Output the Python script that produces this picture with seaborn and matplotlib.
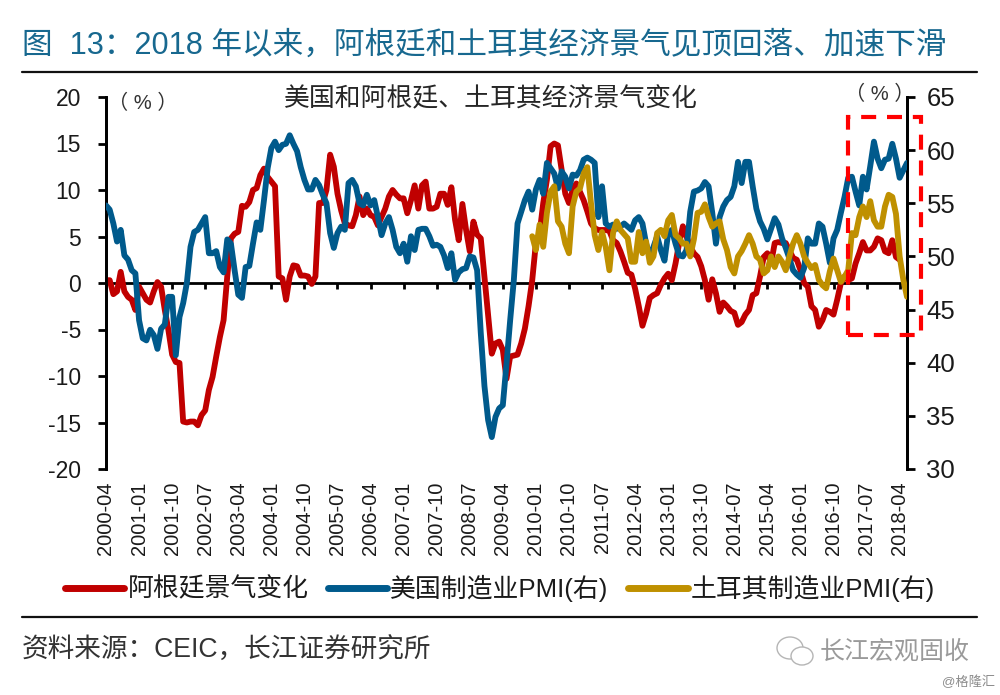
import numpy as np
import pandas as pd
import matplotlib
matplotlib.use("Agg")
import matplotlib.pyplot as plt
from matplotlib.patches import Rectangle, Ellipse
from matplotlib.lines import Line2D
import seaborn as sns

# monthly, starting 2000-04
argentina = [0.3, 0.3, -1.2, -0.9, 1.2, -0.9, -1.5, -1.8, -2.9, -0.4,
             -1.1, -1.8, -2.1, -0.9, 0.1, -0.4, -2.9, -5.1, -7.7, -8.5,
             -8.6, -14.9, -15.0, -14.9, -14.9, -15.3, -14.2, -13.7, -11.5, -10.1,
             -7.9, -5.8, -4.0, 0.7, 4.8, 5.3, 5.5, 8.3, 8.2, 8.7,
             10.0, 10.2, 11.6, 12.3, 11.4, 10.9, 10.4, 0.7, 0.5, -1.8,
             0.7, 1.9, 1.8, 0.8, 0.8, 0.7, -0.1, 0.7, 8.6, 8.6,
             10.0, 13.8, 12.5, 9.6, 7.8, 6.4, 6.2, 6.1, 7.3, 9.3,
             7.3, 8.0, 7.3, 7.1, 6.2, 7.1, 8.0, 9.3, 10.0, 9.5,
             9.1, 9.1, 7.5, 8.9, 10.5, 8.0, 10.5, 10.9, 8.0, 8.0,
             8.2, 9.6, 9.6, 8.4, 10.3, 6.8, 4.6, 8.5, 5.7, 3.4,
             6.6, 5.2, 4.8, 0.7, -3.3, -7.6, -6.5, -6.3, -7.2, -10.3,
             -7.9, -7.8, -7.7, -6.5, -4.9, -2.5, 0.3, 4.3, 5.3, 8.6,
             11.1, 14.7, 15.0, 14.8, 12.2, 9.6, 8.6, 10.0, 10.7, 9.8,
             8.9, 7.7, 6.4, 5.9, 5.7, 5.7, 5.7, 5.6, 4.6, 4.3,
             3.4, 2.3, 1.1, 0.9, -0.6, -2.5, -4.6, -3.3, -1.6, -1.3,
             -1.1, -0.2, 0.5, 1.0, 0.3, 2.1, 4.3, 6.1, 5.0, 3.9,
             3.2, 2.8, 1.8, 0.3, -1.8, 0.4, -1.1, -3.1, -2.1, -2.5,
             -3.0, -3.2, -4.5, -4.2, -3.4, -2.9, -1.3, -1.1, 0.7, 2.8,
             3.2, 2.1, 4.3, 4.4, 4.3, 4.3, 3.5, 2.7, 2.5, 1.4,
             0.0, -0.4, -2.5, -2.9, -4.7, -4.0, -2.9, -3.1, -3.4, -1.8,
             0.0, 0.7, 0.3, 0.5, 2.1, 3.2, 4.4, 3.5, 3.5, 3.9,
             4.8, 4.6, 3.4, 3.2, 4.6, 2.8, 2.5]

us_pmi = [54.8, 54.4, 53.1, 51.4, 52.5, 50.1, 49.7, 48.7, 48.4, 44.0,
          42.3, 42.1, 43.1, 42.6, 41.3, 43.2, 43.6, 46.2, 46.2, 40.7,
          44.3, 45.6, 47.5, 50.9, 52.3, 52.5, 53.1, 53.7, 50.3, 50.3,
          50.5, 49.0, 48.5, 51.6, 51.2, 48.7, 46.4, 46.1, 49.0, 49.1,
          51.2, 53.2, 52.5, 55.3, 58.3, 60.2, 60.8, 60.0, 60.5, 60.6,
          61.4, 60.6, 59.9, 58.4, 57.2, 56.3, 56.3, 57.2, 56.7, 55.8,
          55.0, 52.2, 50.8, 52.2, 52.8, 52.5, 56.9, 57.2, 56.6, 55.0,
          54.8, 55.8, 54.8, 55.3, 53.7, 52.0, 53.1, 53.7, 52.5, 50.9,
          50.3, 51.2, 49.5, 51.9, 50.6, 52.5, 52.6, 52.6, 51.9, 51.0,
          51.1, 50.9, 50.1, 48.9, 50.3, 47.8, 48.5, 48.8, 48.9, 50.0,
          49.9, 48.7, 42.8, 37.8, 34.6, 33.0, 34.9, 35.7, 36.0, 39.9,
          44.0, 47.8, 53.1, 54.2, 55.3, 56.1, 54.4, 56.3, 57.2, 55.9,
          58.8, 58.3, 57.8, 56.4, 58.0, 57.5, 56.4, 57.7, 57.6, 58.1,
          59.1, 59.3, 59.1, 58.8, 53.7, 56.6, 53.1, 52.8, 53.0, 52.6,
          52.8, 53.1, 52.8, 52.5, 53.4, 53.7, 53.1, 51.2, 50.0, 50.9,
          51.9, 50.6, 49.6, 52.2, 52.5, 51.2, 50.1, 50.0, 50.6, 54.2,
          56.1, 56.2, 56.4, 57.0, 56.6, 54.1, 51.2, 53.7, 54.7, 55.3,
          55.6, 56.6, 58.9, 56.9, 58.9, 58.9, 56.6, 54.5, 53.3, 52.6,
          51.6, 52.6, 53.6, 53.0, 51.7, 50.8, 49.8, 48.7, 48.3, 48.0,
          48.9, 51.7, 51.2, 51.2, 53.1, 52.8, 51.2, 49.4, 51.7, 52.5,
          54.1, 55.6, 57.4, 57.5, 56.1, 54.8, 57.5, 56.3, 58.5, 60.8,
          59.2, 58.3, 59.1, 59.2, 60.6, 59.2, 57.4, 58.1, 58.8]

# Turkey only starts 116 months later (2009-12)
turkey_start = 116
turkey_pmi = [51.9, 50.6, 53.0, 50.9, 54.1, 56.1, 56.6, 53.3, 52.8, 51.2,
              50.3, 54.7, 56.1, 56.4, 57.8, 58.4, 55.0, 52.0, 50.6, 52.3,
              50.9, 48.7, 52.2, 53.3, 52.5, 52.1, 51.7, 49.5, 49.5, 52.3,
              50.3, 51.4, 49.4, 50.0, 52.2, 52.5, 51.9, 53.4, 53.9, 52.0,
              51.7, 51.2, 51.2, 50.0, 51.6, 54.1, 54.2, 54.9, 53.7, 52.8,
              53.1, 53.3, 51.6, 50.6, 49.0, 48.4, 50.0, 50.5, 51.2, 52.0,
              51.2, 50.0, 49.7, 48.4, 48.7, 50.0, 49.0, 50.0, 49.5, 48.7,
              50.0, 51.2, 52.0, 51.2, 50.0, 49.4, 48.9, 49.2, 47.8, 47.3,
              47.0, 48.6, 49.8, 48.7, 47.6, 48.1, 48.7, 52.2, 52.0, 53.7,
              54.7, 53.7, 55.2, 53.4, 52.8, 52.8, 54.7, 55.8, 55.6, 54.0,
              50.0, 47.8, 46.2]

tick_labels = ["2000-04", "2001-01", "2001-10", "2002-07", "2003-04", "2004-01", "2004-10",
               "2005-07", "2006-04", "2007-01", "2007-10", "2008-07", "2009-04", "2010-01",
               "2010-10", "2011-07", "2012-04", "2013-01", "2013-10", "2014-07", "2015-04",
               "2016-01", "2016-10", "2017-07", "2018-04"]
left_ticks = [20, 15, 10, 5, 0, -5, -10, -15, -20]
right_ticks = [65, 60, 55, 50, 45, 40, 35, 30]

RED = "#C00000"
BLUE = "#005A8C"
GOLD = "#BF9000"
TEAL = "#17688F"
W, H = 1000, 695


def fx(px):
    return px / W


def fy(py):
    return 1 - py / H


sns.set_theme(style="white")
plt.rcParams["font.family"] = ["Liberation Sans", "Noto Sans CJK SC", "DejaVu Sans"]
plt.rcParams["axes.unicode_minus"] = False

fig = plt.figure(figsize=(10, 6.95), dpi=100)
ax = fig.add_axes([fx(106), fy(469), fx(907 - 106), fy(97) - fy(469)])
ax2 = ax.twinx()

# has to happen before the tick setup, moving a spine resets the ticks
ax.spines["bottom"].set_position(("data", 0))

df_arg = pd.DataFrame({"m": np.arange(len(argentina)), "v": argentina})
df_us = pd.DataFrame({"m": np.arange(len(us_pmi)), "v": us_pmi})
df_tr = pd.DataFrame({"m": np.arange(len(turkey_pmi)) + turkey_start, "v": turkey_pmi})

sns.lineplot(data=df_arg, x="m", y="v", ax=ax, color=RED, lw=4.2, zorder=3)
sns.lineplot(data=df_us, x="m", y="v", ax=ax2, color=BLUE, lw=4.2, zorder=3)
sns.lineplot(data=df_tr, x="m", y="v", ax=ax2, color=GOLD, lw=4.2, zorder=4)

ax.set_xlim(0, len(us_pmi) - 1)
ax.set_ylim(-20, 20)
ax2.set_ylim(30, 65)
ax.set_xlabel("")
ax.set_ylabel("")
ax2.set_ylabel("")

ax.set_xticks(np.arange(len(tick_labels)) * 9)
ax.set_xticklabels(tick_labels, rotation=90, fontsize=14.5, color="#1a1a1a")
ax.set_yticks(left_ticks)
ax2.set_yticks(right_ticks)
ax.tick_params(axis="y", length=6, width=2, color="black", labelsize=16.5, labelcolor="#1a1a1a", pad=12, left=True)
ax2.tick_params(axis="y", length=6, width=2, color="black", labelsize=18.5, labelcolor="#1a1a1a", pad=8, right=True)
# x axis sits on zero but labels stay under the plot
ax.tick_params(axis="x", length=4, width=2, color="black", pad=139, bottom=True)

for a in (ax, ax2):
    a.spines["top"].set_visible(False)
    a.spines["left"].set_linewidth(2)
    a.spines["right"].set_linewidth(2)
    a.spines["left"].set_color("black")
    a.spines["right"].set_color("black")
ax.spines["bottom"].set_linewidth(2)
ax.spines["bottom"].set_color("black")
ax2.spines["bottom"].set_visible(False)

# title + rules
fig.text(fx(22), fy(46), "图  13：2018 年以来，阿根廷和土耳其经济景气见顶回落、加速下滑",
         fontsize=22.05, color=TEAL, va="center", ha="left", fontweight="medium")
fig.add_artist(Line2D([fx(22), fx(977)], [fy(72), fy(72)], color="#111111", lw=1.6))
fig.add_artist(Line2D([fx(22), fx(977)], [fy(617), fy(617)], color="#111111", lw=1.6))

fig.text(fx(491), fy(99), "美国和阿根廷、土耳其经济景气变化", fontsize=18.6, color="#262626", ha="center", va="center")
fig.text(fx(143), fy(103), "（ % ）", fontsize=14.5, color="#333333", ha="center", va="center")
fig.text(fx(880), fy(94), "（ % ）", fontsize=14.5, color="#333333", ha="center", va="center")

# highlighted recent period
fig.add_artist(Rectangle((fx(848), fy(335)), fx(921 - 848), fy(117) - fy(335), transform=fig.transFigure,
                         fill=False, edgecolor="#FF0000", lw=3, linestyle=(0, (3.6, 2.6)), zorder=10))

handles = [Line2D([], [], color=RED, lw=5, solid_capstyle="round"),
           Line2D([], [], color=BLUE, lw=5, solid_capstyle="round"),
           Line2D([], [], color=GOLD, lw=5, solid_capstyle="round")]
fig.legend(handles, ["阿根廷景气变化", "美国制造业PMI(右)", "土耳其制造业PMI(右)"],
           ncol=3, frameon=False, fontsize=18.6, loc="center left", bbox_to_anchor=(fx(52), fy(588)),
           handlelength=2.3, handletextpad=0.12, columnspacing=0.75, labelcolor="#1a1a1a", borderpad=0)

fig.text(fx(22), fy(651), "资料来源：CEIC，长江证券研究所", fontsize=19.2, color="#333333", ha="left", va="center")

# wechat style watermark
fig.add_artist(Ellipse((fx(790), fy(648)), fx(26), fy(0) - fy(22), transform=fig.transFigure,
                       fill=False, edgecolor="#b5b5b5", lw=1))
fig.add_artist(Ellipse((fx(802), fy(656)), fx(22), fy(0) - fy(18), transform=fig.transFigure,
                       facecolor="white", edgecolor="#b5b5b5", lw=1))
fig.text(fx(820), fy(652), "长江宏观固收", fontsize=18, color="#9a9a9a", ha="left", va="center")
fig.text(fx(995), fy(682), "@格隆汇", fontsize=9.5, color="#8c8c8c", ha="right", va="center")

fig.savefig("out.png", dpi=100)
